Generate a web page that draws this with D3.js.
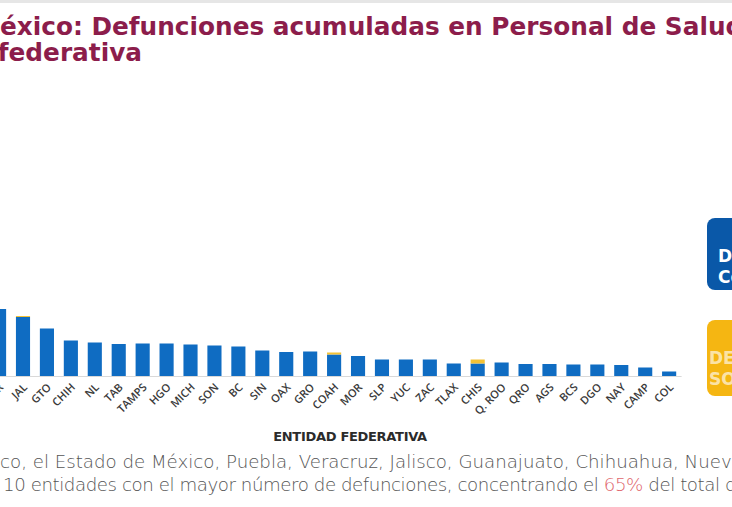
<!DOCTYPE html>
<html>
<head>
<meta charset="utf-8">
<script src="https://cdn.jsdelivr.net/npm/d3@7"></script>
<style>
    body { margin: 0; background: #ffffff; overflow: hidden; }
    svg { display: block; }
</style>
</head>
<body>
<div id="chart"></div>
<script>
// states visible in the slide (CDMX, MEX and PUE are cut off on the left)
const states = ["VER", "JAL", "GTO", "CHIH", "NL", "TAB", "TAMPS", "HGO", "MICH", "SON", "BC",
    "SIN", "OAX", "GRO", "COAH", "MOR", "SLP", "YUC", "ZAC", "TLAX", "CHIS", "Q. ROO", "QRO",
    "AGS", "BCS", "DGO", "NAY", "CAMP", "COL"];
const confirmed = [134, 118, 95, 71, 67, 64, 65, 65, 63, 61, 59,
    51, 48, 49, 43, 40, 33, 33, 33, 25, 25, 27, 24,
    24, 23, 23, 22, 17, 9];
const suspected = [0, 2, 0, 0, 0, 0, 0, 0, 0, 0, 0,
    0, 0, 0, 4, 0, 0, 0, 0, 0, 8, 0, 0,
    0, 0, 0, 0, 0, 0];
const legendLabels = [["Defunciones", "Confirmadas"], ["DEFUNCIONES", "SOSPECHOSAS"]];

const width = 732, height = 507;
const colors = { confirmed: "#0f6cc2", suspected: "#f3c236" };

const svg = d3.select("#chart").append("svg")
    .attr("width", width)
    .attr("height", height);

svg.append("rect")
    .attr("width", width).attr("height", height)
    .attr("fill", "#ffffff");
svg.append("rect")
    .attr("width", width).attr("height", 3)
    .attr("fill", "#e6e6e6");

// resize a text so that the chars [from, to) take `target` px
function fitSize(sel, from, to, target) {
    const size = parseFloat(sel.attr("font-size"));
    const w = sel.node().getSubStringLength(from, to - from);
    sel.attr("font-size", (size * target / w).toFixed(2) + "px");
}

// Title (left part is cut off, like in the slide)
const titleText = "México: Defunciones acumuladas en Personal de Salud por";
const title1 = svg.append("text")
    .attr("y", 35)
    .attr("font-family", "DejaVu Sans, sans-serif")
    .attr("font-weight", 700)
    .attr("font-size", "22px")
    .attr("fill", "#8c1d4b")
    .text(titleText);
fitSize(title1, 1, titleText.indexOf("d por"), 726);
title1.attr("x", -title1.node().getSubStringLength(0, 1));

svg.append("text")
    .attr("x", 142)
    .attr("y", 61)
    .attr("text-anchor", "end")
    .attr("font-family", "DejaVu Sans, sans-serif")
    .attr("font-weight", 700)
    .attr("font-size", title1.attr("font-size"))
    .attr("fill", "#8c1d4b")
    .text("entidad federativa");

// Chart
const baseY = 376;
const x = d3.scaleBand()
    .domain(states)
    .range([-12.9, 681.1])
    .paddingInner(0.41)
    .paddingOuter(0.205);

const y = d3.scaleLinear()
    .domain([0, 500])
    .range([baseY, baseY - 250]);

const table = states.map((s, i) => ({ state: s, confirmed: confirmed[i], suspected: suspected[i] }));
const series = d3.stack().keys(["confirmed", "suspected"])(table);

const g = svg.append("g");

g.selectAll("g.series")
    .data(series)
    .enter().append("g")
    .attr("class", "series")
    .attr("fill", d => colors[d.key])
    .selectAll("rect")
    .data(d => d)
    .enter().append("rect")
    .attr("x", d => x(d.data.state))
    .attr("y", d => y(d[1]))
    .attr("width", x.bandwidth())
    .attr("height", d => y(d[0]) - y(d[1]));

// X axis
const xAxisGroup = g.append("g")
    .attr("transform", `translate(0, ${baseY})`)
    .call(d3.axisBottom(x).tickSize(0).tickPadding(0));

xAxisGroup.select(".domain")
    .attr("stroke", "#d9d9d9")
    .attr("stroke-width", 1.2);

xAxisGroup.selectAll("text")
    .attr("font-family", "Open Sans, sans-serif")
    .attr("font-size", "11px")
    .attr("font-weight", 600)
    .attr("fill", "#3a3a3a")
    .attr("text-anchor", "end")
    .attr("dy", "0")
    .attr("y", 0)
    .attr("transform", "translate(5, 12) rotate(-45)");

svg.append("text")
    .attr("x", 350)
    .attr("y", 441)
    .attr("text-anchor", "middle")
    .attr("font-family", "DejaVu Sans, sans-serif")
    .attr("font-weight", 700)
    .attr("font-size", "13px")
    .attr("letter-spacing", "-0.3px")
    .attr("fill", "#2b2b2b")
    .text("ENTIDAD FEDERATIVA");

// Legend boxes on the right edge
const legend = [
    { y: 218, h: 72, fill: "#0a58a8", text: "#ffffff", tx: 718 },
    { y: 320, h: 76, fill: "#f5b612", text: "rgba(255,255,255,0.65)", tx: 709 }
];
legend.forEach((d, i) => {
    svg.append("rect")
        .attr("x", 707).attr("y", d.y)
        .attr("width", 60).attr("height", d.h)
        .attr("rx", 8)
        .attr("fill", d.fill);
    legendLabels[i].forEach((t, j) => {
        svg.append("text")
            .attr("x", d.tx)
            .attr("y", d.y + 44 + j * 21)
            .attr("font-family", "DejaVu Sans, sans-serif")
            .attr("font-weight", 700)
            .attr("font-size", "17px")
            .attr("fill", d.text)
            .text(t);
    });
});

// Note below the chart
const noteText = "En la Ciudad de México, el Estado de México, Puebla, Veracruz, Jalisco, Guanajuato, Chihuahua, Nuevo León, Tabasco y Tamaulipas se ubican las";
const note1 = svg.append("text")
    .attr("y", 468)
    .attr("font-family", "DejaVu Sans, sans-serif")
    .attr("font-weight", 300)
    .attr("font-size", "16px")
    .attr("fill", "#555555")
    .text(noteText);
const cut = noteText.indexOf("co, el Estado");
fitSize(note1, cut, noteText.indexOf("o León"), 732);
note1.attr("x", -note1.node().getSubStringLength(0, cut));

const note2 = svg.append("text")
    .attr("x", 3)
    .attr("y", 491)
    .attr("font-family", "DejaVu Sans, sans-serif")
    .attr("font-weight", 300)
    .attr("font-size", note1.attr("font-size"))
    .attr("fill", "#555555");
note2.append("tspan").text("10 entidades con el mayor número de defunciones, concentrando el ");
note2.append("tspan").attr("fill", "#e0666d").text("65%");
note2.append("tspan").text(" del total de defunciones.");
// tighten the second line so "del total d" ends at the right edge
const full2 = note2.text();
const n2 = full2.indexOf("de defunciones.");
const w2 = note2.node().getSubStringLength(0, n2);
note2.attr("letter-spacing", ((722 - w2) / n2).toFixed(3) + "px");
</script>
</body>
</html>
